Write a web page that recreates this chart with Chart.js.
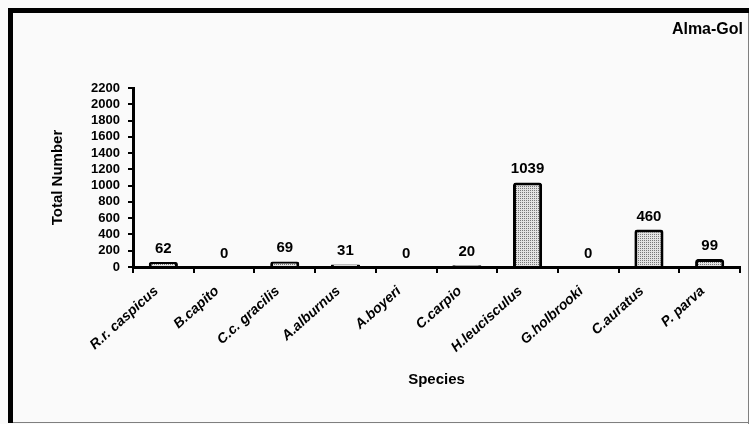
<!DOCTYPE html>
<html>
<head>
<meta charset="utf-8">
<script src="https://cdn.jsdelivr.net/npm/chart.js@4.4.0/dist/chart.umd.min.js"></script>
<style>
  html, body { margin: 0; padding: 0; background: #fafafa; }
  #wrap { width: 749px; height: 424px; }
</style>
</head>
<body>
<div id="wrap"><canvas id="fishChart" width="749" height="424"></canvas></div>
<script>
const species = ["R.r. caspicus", "B.capito", "C.c. gracilis", "A.alburnus", "A.boyeri",
  "C.carpio", "H.leucisculus", "G.holbrooki", "C.auratus", "P. parva"];
const totals = [62, 0, 69, 31, 0, 20, 1039, 0, 460, 99];
const yTicks = [0, 200, 400, 600, 800, 1000, 1200, 1400, 1600, 1800, 2000, 2200];
const siteName = "Alma-Gol";

const FONT = "'Liberation Sans', Arial, sans-serif";

// dotted grey fill like the original
function makeStipple() {
  const c = document.createElement("canvas");
  c.width = 2; c.height = 2;
  const g = c.getContext("2d");
  g.fillStyle = "#e2e2e2";
  g.fillRect(0, 0, 2, 2);
  g.fillStyle = "#777";
  g.fillRect(0, 0, 1, 1);
  return document.getElementById("fishChart").getContext("2d").createPattern(c, "repeat");
}

// background + frame + site label
const framePlugin = {
  id: "frame",
  beforeDraw(chart) {
    const c = chart.ctx;
    c.save();
    c.fillStyle = "#fafafa";
    c.fillRect(0, 0, chart.width, chart.height);
    c.fillStyle = "#7f7f7f";
    c.fillRect(748, 8, 1, 416);
    c.fillRect(8, 422, 741, 1);
    c.fillStyle = "#000";
    c.fillRect(8, 8, 741, 5);
    c.fillRect(8, 8, 5, 415);
    c.font = "bold 16px " + FONT;
    c.textAlign = "right";
    c.textBaseline = "middle";
    c.fillText(siteName, 743, 30);
    c.restore();
  }
};

// numbers above the bars
const valueLabels = {
  id: "valueLabels",
  afterDatasetsDraw(chart) {
    const c = chart.ctx;
    const meta = chart.getDatasetMeta(0);
    c.save();
    c.font = "bold 15px " + FONT;
    c.fillStyle = "#000";
    c.textAlign = "center";
    c.textBaseline = "alphabetic";
    meta.data.forEach((bar, i) => {
      c.fillText(String(totals[i]), bar.x, bar.y - 9);
    });
    c.restore();
  }
};

const ctx = document.getElementById("fishChart").getContext("2d");

new Chart(ctx, {
  type: "bar",
  data: {
    labels: species,
    datasets: [{
      data: totals,
      backgroundColor: makeStipple(),
      borderColor: "#000",
      borderWidth: 3,
      borderRadius: 3,
      barPercentage: 0.48,
      categoryPercentage: 1
    }]
  },
  options: {
    responsive: false,
    animation: false,
    devicePixelRatio: 1,
    layout: { padding: { left: 0, top: 88, right: 9, bottom: 0 } },
    plugins: {
      legend: { display: false },
      tooltip: { enabled: false }
    },
    scales: {
      x: {
        afterFit(scale) { scale.height = 157; },
        grid: { drawOnChartArea: false, drawTicks: true, tickLength: 6, lineWidth: 2, color: "#000", offset: true },
        border: { color: "#000", width: 3 },
        ticks: {
          color: "#000",
          font: { family: FONT, size: 14, weight: "bold", style: "italic" },
          minRotation: 42, maxRotation: 42,
          padding: 10,
          labelOffset: -7,
          autoSkip: false
        },
        title: {
          display: true, text: "Species", color: "#000",
          font: { family: FONT, size: 15, weight: "bold" },
          padding: { top: 0, bottom: 35 }
        }
      },
      y: {
        min: 0, max: 2200,
        afterFit(scale) { scale.width = 133; },
        afterBuildTicks(scale) { scale.ticks = yTicks.map(v => ({ value: v })); },
        grid: { drawOnChartArea: false, drawTicks: true, tickLength: 5, lineWidth: 2, color: "#000" },
        border: { color: "#000", width: 3 },
        ticks: {
          color: "#000",
          font: { family: FONT, size: 13, weight: "bold" },
          padding: 8,
          autoSkip: false,
          callback: v => String(v)
        },
        title: {
          display: true, text: "Total Number", color: "#000",
          font: { family: FONT, size: 15, weight: "bold" },
          padding: { top: 49, bottom: 0 }
        }
      }
    }
  },
  plugins: [framePlugin, valueLabels]
});
</script>
</body>
</html>
